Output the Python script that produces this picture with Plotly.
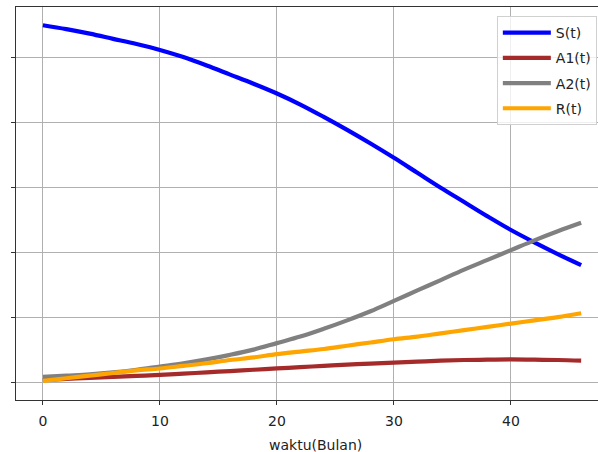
import plotly.graph_objects as go

# months
t = [0, 2, 4, 6, 8, 10, 12, 14, 16, 18, 20, 22, 24, 26, 28, 30, 32, 34, 36, 38, 40, 42, 44, 46]

S = [5.49, 5.43, 5.36, 5.28, 5.20, 5.11, 5.00, 4.87, 4.73, 4.59, 4.44, 4.27,
     4.08, 3.88, 3.67, 3.45, 3.22, 2.99, 2.77, 2.55, 2.34, 2.15, 1.97, 1.80]
A1 = [0.03, 0.05, 0.065, 0.08, 0.095, 0.11, 0.13, 0.15, 0.17, 0.19, 0.21, 0.23,
      0.25, 0.27, 0.285, 0.30, 0.315, 0.33, 0.34, 0.345, 0.35, 0.345, 0.34, 0.33]
A2 = [0.08, 0.10, 0.12, 0.15, 0.19, 0.24, 0.29, 0.35, 0.42, 0.50, 0.60, 0.70,
      0.82, 0.95, 1.09, 1.25, 1.41, 1.57, 1.73, 1.88, 2.03, 2.18, 2.32, 2.45]
R = [0.02, 0.06, 0.10, 0.14, 0.18, 0.21, 0.25, 0.29, 0.34, 0.38, 0.43, 0.47,
     0.51, 0.56, 0.61, 0.66, 0.70, 0.75, 0.80, 0.85, 0.90, 0.95, 1.00, 1.06]

names = ["S(t)", "A1(t)", "A2(t)", "R(t)"]
colors = ["#0000ff", "#a52a2a", "#808080", "#ffa500"]
series = [S, A1, A2, R]

x_ticks = [0, 10, 20, 30, 40]
y_ticks = [0, 1, 2, 3, 4, 5]

fig = go.Figure()
for n, c, s in zip(names, colors, series):
    fig.add_trace(go.Scatter(x=t, y=s, mode="lines", name=n, legendgroup=n,
                             line=dict(color=c, width=4.2, shape="spline", smoothing=1.0)))

fig.update_layout(
    width=598, height=452,
    margin=dict(l=16, r=0, t=7, b=52),
    paper_bgcolor="white", plot_bgcolor="white",
    font=dict(family="DejaVu Sans", size=14, color="#222"),
    showlegend=True,
    legend=dict(x=0.998, xanchor="right", y=0.977, yanchor="top",
                bgcolor="rgba(255,255,255,0.8)", bordercolor="#d0d0d0", borderwidth=1,
                font=dict(family="DejaVu Sans", size=14, color="#222"),
                itemwidth=48, tracegroupgap=4, traceorder="grouped"),
    xaxis=dict(range=[-2.3, 47.44], tickvals=x_ticks, showgrid=True, gridcolor="#b0b0b0",
               gridwidth=1, zeroline=False, showline=True, linecolor="#333", linewidth=1,
               mirror=True, ticks="outside", ticklen=4, tickcolor="#333",
               ticklabelstandoff=4,
               tickfont=dict(family="DejaVu Sans", size=14, color="#222")),
    yaxis=dict(range=[-0.275, 5.77], tickvals=y_ticks, showticklabels=False, showgrid=True,
               gridcolor="#b0b0b0", gridwidth=1, zeroline=False, showline=True,
               linecolor="#333", linewidth=1, ticks="outside", ticklen=4, tickcolor="#333"),
    annotations=[dict(text="waktu(Bulan)", x=(316 - 16) / 582, xref="paper",
                      y=-(445 - 400) / 393, yref="paper", yanchor="middle",
                      xanchor="center", showarrow=False,
                      font=dict(family="DejaVu Sans", size=14, color="#222"))],
)

fig.write_html("out.html")
